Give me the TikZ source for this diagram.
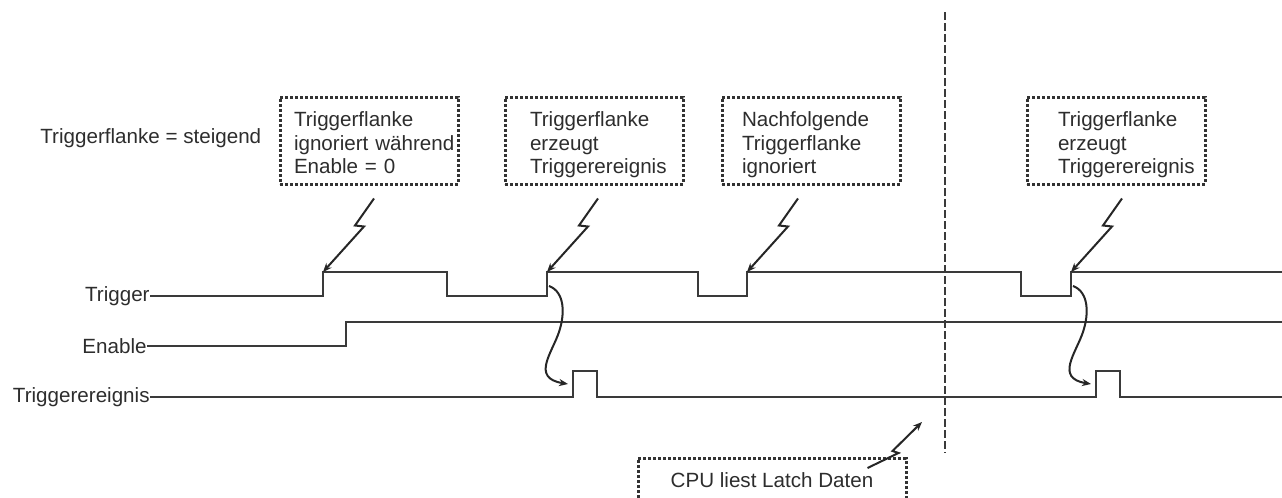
\documentclass[tikz,border=0pt]{standalone}
\usepackage{fontspec}
\setmainfont{Liberation Sans}
\usetikzlibrary{arrows.meta,calc}
\definecolor{linie}{RGB}{58,58,58}
\definecolor{punkt}{RGB}{50,50,50}
\definecolor{schrift}{RGB}{45,45,45}

\begin{document}
\begin{tikzpicture}[x=0.5pt, y=-0.5pt,
  font=\fontsize{10.3pt}{11.6pt}\selectfont,
  sig/.style={draw=linie, line width=1.4pt},
  signame/.style={anchor=east, inner sep=0pt, text=schrift},
  blitz/.style={draw=black!85, line width=1pt, -{Stealth[length=4.5pt,width=3.6pt]}},
  kurve/.style={draw=black!85, line width=1pt, -{Stealth[length=4.5pt,width=3.6pt]}},
  rahmen/.style={draw=punkt, line width=1.5pt, dash pattern=on 1.3pt off 1.2pt, text=schrift},
  hinweis/.style={rahmen, inner sep=0pt, text width=89pt, minimum height=43.5pt, align=left,
    execute at begin node={\leftskip=#1\relax\rule{0pt}{13pt}},
    execute at end node={\rule[-3.5pt]{0pt}{3.5pt}}},
  marke/.style={draw=linie, line width=1.4pt, dash pattern=on 4pt off 1.5pt}]
  \useasboundingbox (0,0) rectangle (1282,498);
  % 信号
  \node[anchor=base west, inner sep=0pt, text=schrift] (flanke) at (40,143) {Triggerflanke = steigend};
  \node[signame] (trig) at (150,296) {Trigger};
  \node[signame] (en)   at (147,346) {Enable};
  \node[signame] (ev)   at (150,397) {Triggerereignis};
  \coordinate (r1) at (323,272);
  \coordinate (r2) at (547,272);
  \coordinate (r3) at (747,272);
  \coordinate (r4) at (1071,272);
  \coordinate (p1) at (573,397);
  \coordinate (p2) at (1096,397);
  \draw[sig] (trig.east) -- (323,296) -- (r1) -- (447,272) -- (447,296) -- (547,296) -- (r2)
    -- (698,272) -- (698,296) -- (747,296) -- (r3) -- (1021,272) -- (1021,296) -- (1071,296)
    -- (r4) -- (1282,272);
  \draw[sig] (en.east) -- (346,346) -- (346,322) -- (1282,322);
  \draw[sig] (ev.east) -- (p1) -- (573,371) -- (597,371) -- (597,397) -- (p2)
    -- (1096,371) -- (1120,371) -- (1120,397) -- (1282,397);
  % 注释框
  \node[hinweis=7pt]    (n1) at (369,140.5)  {Triggerflanke\\ignoriert während\\Enable = 0};
  \node[hinweis=12.5pt] (n2) at (594,140.5)  {Triggerflanke\\erzeugt\\Triggerereignis};
  \node[hinweis=10pt]   (n3) at (811,140.5)  {Nachfolgende\\Triggerflanke\\ignoriert};
  \node[hinweis=15.5pt] (n4) at (1116,140.5) {Triggerflanke\\erzeugt\\Triggerereignis};
  \node[rahmen, anchor=north, minimum width=134pt, inner xsep=0pt, inner ysep=4pt,
    text height=10.5pt, text depth=10pt] (cpu) at (772,457) {CPU liest Latch Daten};
  % 闪电箭头
  \draw[blitz] ($(n1.south)+(5,13)$) -- ++(-19,27) -- ++(9,1) -- (r1);
  \draw[blitz] ($(n2.south)+(4,13)$) -- ++(-19,27) -- ++(9,1) -- (r2);
  \draw[blitz] ($(n3.south)+(-13,13)$) -- ++(-19,27) -- ++(9,1) -- (r3);
  \draw[blitz] ($(n4.south)+(6,13)$) -- ++(-19,27) -- ++(9,1) -- (r4);
  \coordinate (lesen) at (922,422);
  \draw[blitz] ($(cpu.north east)+(-40,11)$) -- ++(31,-15) -- ++(-6,-2) -- (lesen);
  % 因果箭头
  \draw[kurve] ($(r2)+(2,14)$) .. controls ($(r2)+(18,20)$) and ($(r2)+(18,42)$) .. ($(r2)+(12,60)$)
    .. controls ($(r2)+(5,81)$) and ($(r2)+(-16,106)$) .. ($(p1)+(-5,-13)$);
  \draw[kurve] ($(r4)+(2,14)$) .. controls ($(r4)+(18,20)$) and ($(r4)+(18,42)$) .. ($(r4)+(12,60)$)
    .. controls ($(r4)+(5,81)$) and ($(r4)+(-16,106)$) .. ($(p2)+(-5,-13)$);
  % CPU 读取时刻
  \draw[marke] (945,12) -- (945,453);
\end{tikzpicture}
\end{document}
